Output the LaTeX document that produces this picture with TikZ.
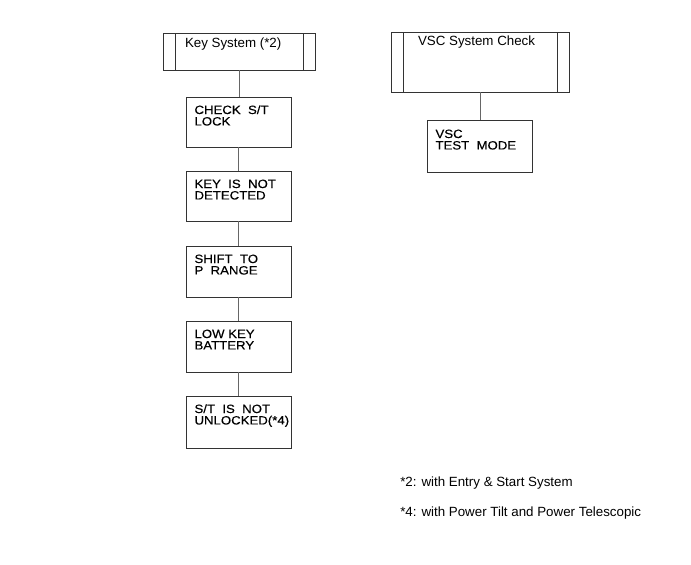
\documentclass[tikz,border=0pt]{standalone}
\usepackage{fontspec}
\setmainfont{Liberation Sans}
\newfontfamily\capsfont[FakeStretch=1.1,FakeBold=0.4]{Liberation Sans}
\newlength\pxu
\setlength\pxu{0.75pt}
% caps box content: width, height (px), first baseline (px), text
\newcommand\capbox[4]{\parbox[c][#2\pxu][t]{#1\pxu}{\capsfont\fontsize{9pt}{8.6pt}\selectfont
  \lineskiplimit=-20pt\parindent=0pt\leftskip=8.5\pxu
  \rule{0pt}{#3\pxu}#4\par}}
% title box content: width, height, inset, first baseline, text
\newcommand\titlebox[5]{\parbox[c][#2\pxu][t]{#1\pxu}{\fontsize{10pt}{12pt}\selectfont
  \lineskiplimit=-20pt\parindent=0pt\leftskip=#3\pxu
  \rule{0pt}{#4\pxu}#5\par}}
\begin{document}
\begin{tikzpicture}[x=0.75pt,y=-0.75pt,
  ln/.style={line width=0.75pt, draw=black!80},
  stepbox/.style={ln, inner sep=0pt, outer sep=0pt, anchor=north west},
  conn/.style={line width=0.75pt, draw=black!60},
  note/.style={anchor=base west, inner sep=0pt, font=\fontsize{10pt}{12pt}\selectfont}]
\useasboundingbox (0,0) rectangle (691,564);

% left column
\node[stepbox] (ks) at (163,33) {\titlebox{152}{37}{22}{14}{Key System (*2)}};
\draw[ln] ([xshift=12\pxu]ks.north west) -- ([xshift=12\pxu]ks.south west);
\draw[ln] ([xshift=-12\pxu]ks.north east) -- ([xshift=-12\pxu]ks.south east);

\node[stepbox] (c1) at (186,97)  {\capbox{105}{50}{17}{CHECK~~S/T\\LOCK}};
\node[stepbox] (c2) at (186,171) {\capbox{105}{50}{17}{KEY~~IS~~NOT\\DETECTED}};
\node[stepbox] (c3) at (186,246) {\capbox{105}{51}{17}{SHIFT~~TO\\P~~RANGE}};
\node[stepbox] (c4) at (186,321) {\capbox{105}{51}{17}{LOW KEY\\BATTERY}};
\node[stepbox] (c5) at (186,396) {\capbox{105}{52}{17}{S/T~~IS~~NOT\\UNLOCKED(*4)}};

\draw[conn] (ks.south) -- (ks.south |- c1.north);
\draw[conn] (c1.south) -- (c2.north);
\draw[conn] (c2.south) -- (c3.north);
\draw[conn] (c3.south) -- (c4.north);
\draw[conn] (c4.south) -- (c5.north);

% right column
\node[stepbox] (vs) at (391,32) {\titlebox{178}{60}{27}{13}{VSC System Check}};
\draw[ln] ([xshift=12\pxu]vs.north west) -- ([xshift=12\pxu]vs.south west);
\draw[ln] ([xshift=-12\pxu]vs.north east) -- ([xshift=-12\pxu]vs.south east);

\node[stepbox] (vt) at (427,120) {\capbox{105}{52}{18}{VSC\\TEST~~MODE}};
\draw[conn] (vs.south) -- (vs.south |- vt.north);

% notes
\node[note] (n2) at (400,486) {*2: with Entry \& Start System};
\node[note] (n4) at (400,516) {*4: with Power Tilt and Power Telescopic};
\end{tikzpicture}
\end{document}
